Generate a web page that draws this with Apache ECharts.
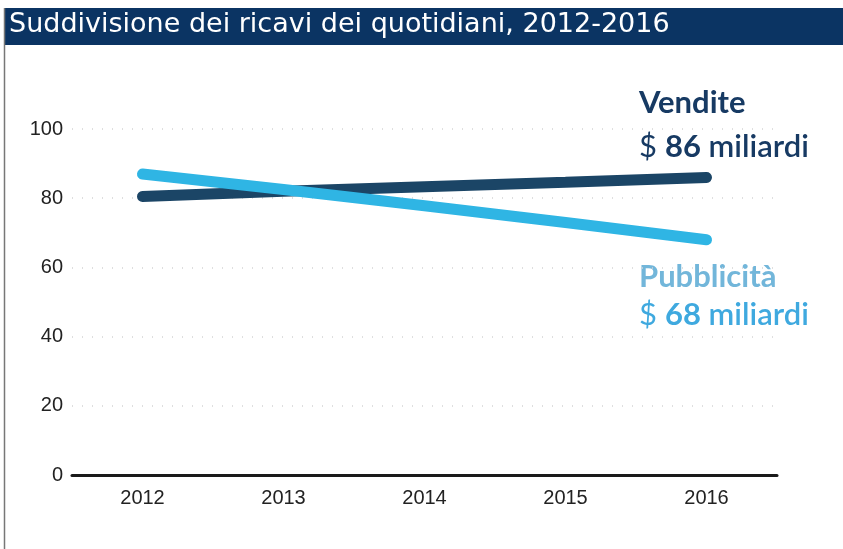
<!DOCTYPE html>
<html>
<head>
<meta charset="utf-8">
<script src="https://cdn.jsdelivr.net/npm/echarts@6/dist/echarts.min.js"></script>
<style>
  html, body { margin: 0; padding: 0; background: #fff; }
  #chart { width: 843px; height: 549px; }
</style>
</head>
<body>
<div id="chart"></div>
<script>

// data
var years = ['2012', '2013', '2014', '2015', '2016'];
var vendite = [80.5, 82, 83.3, 84.6, 86];
var pubblicita = [87, 82.5, 77.8, 73, 68];
var yTicks = [0, 20, 40, 60, 80, 100];

var darkBlue = '#1b4566';
var lightBlue = '#2fb5e4';

var myChart = echarts.init(document.getElementById('chart'));

var option = {
    animation: false,
    grid: {
        left: 72,
        right: 66,
        top: 129,
        bottom: 74
    },
    xAxis: {
        type: 'category',
        data: years,
        boundaryGap: true,
        axisLine: { lineStyle: { color: '#1a1a1a', width: 3 } },
        axisTick: { show: false },
        axisLabel: {
            color: '#222',
            fontFamily: 'Liberation Sans',
            fontSize: 20,
            margin: 13
        }
    },
    yAxis: {
        type: 'value',
        min: yTicks[0],
        max: yTicks[yTicks.length - 1],
        interval: 20,
        axisLine: { show: false },
        axisTick: { show: false },
        axisLabel: {
            color: '#222',
            fontFamily: 'Liberation Sans',
            fontSize: 20,
            margin: 9
        },
        splitLine: {
            lineStyle: { color: '#d4d4d4', type: [1, 9], width: 1.5 }
        }
    },
    series: [
        {
            name: 'Vendite',
            type: 'line',
            data: vendite,
            symbol: 'none',
            lineStyle: { color: darkBlue, width: 11, cap: 'round' },
            z: 2
        },
        {
            name: 'Pubblicità',
            type: 'line',
            data: pubblicita,
            symbol: 'none',
            lineStyle: { color: lightBlue, width: 11, cap: 'round' },
            z: 3
        }
    ],
    graphic: [
        {
            type: 'rect',
            shape: { x: 4, y: 8, width: 839, height: 37 },
            style: { fill: '#0b3463' }
        },
        {
            type: 'line',
            shape: { x1: 4.5, y1: 8, x2: 4.5, y2: 549 },
            style: { stroke: '#777', lineWidth: 1.5 }
        },
        {
            type: 'text',
            left: 9,
            top: 11,
            style: {
                text: 'Suddivisione dei ricavi dei quotidiani, 2012-2016',
                fill: '#fff',
                font: '27px "DejaVu Sans"'
            }
        },
        {
            type: 'text',
            left: 639,
            top: 81,
            style: {
                text: '{b|Vendite}\n{r|$ }{b2|86}{m| miliardi}',
                lineHeight: 44,
                rich: {
                    b: { font: 'bold 31px Lato', fill: '#173a63', lineHeight: 44 },
                    b2: { font: 'bold 31px Lato', fill: '#173a63', lineHeight: 44 },
                    r: { font: '31px Lato', fill: '#173a63', lineHeight: 44 },
                    m: { font: '600 31px Lato', fill: '#173a63', lineHeight: 44 }
                }
            }
        },
        {
            type: 'text',
            left: 639,
            top: 258,
            style: {
                text: '{p|Pubblicità}\n{r|$ }{b|68}{m| miliardi}',
                lineHeight: 38,
                rich: {
                    p: { font: 'bold 31px Lato', fill: '#72b6da', lineHeight: 38 },
                    b: { font: 'bold 31px Lato', fill: '#3fa9df', lineHeight: 38 },
                    r: { font: '31px Lato', fill: '#3fa9df', lineHeight: 38 },
                    m: { font: '600 31px Lato', fill: '#3fa9df', lineHeight: 38 }
                }
            }
        }
    ]
};

myChart.setOption(option);

window.addEventListener('resize', function() {
    myChart.resize();
});
</script>
</body>
</html>
